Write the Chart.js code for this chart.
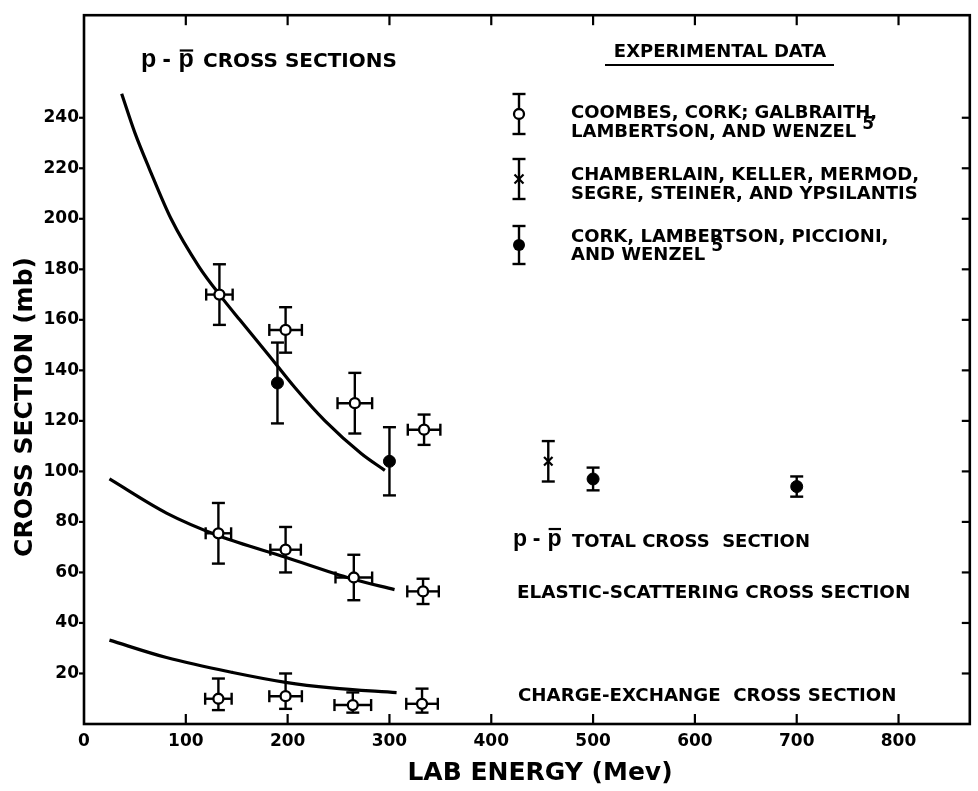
<!DOCTYPE html>
<html>
<head>
<meta charset="utf-8">
<script src="https://cdn.jsdelivr.net/npm/chart.js@4.4.1/dist/chart.umd.min.js"></script>
<style>
  html, body { margin: 0; padding: 0; background: #fff; }
  canvas { display: block; }
</style>
</head>
<body>
<canvas id="c" width="978" height="791"></canvas>
<script>
// Axis ticks (lab energy in MeV, cross section in mb)
const xTicks = [0, 100, 200, 300, 400, 500, 600, 700, 800];
const yTicks = [0, 20, 40, 60, 80, 100, 120, 140, 160, 180, 200, 220, 240];

// Coombes, Cork, Galbraith, Lambertson and Wenzel (open circles)
const totalE      = [133, 198, 266, 334];
const totalSigma  = [170, 156, 127, 116.5];
const totalErr    = [12, 9, 12, 6];
const totalEErr   = [13, 16, 17, 16];

const elasticE     = [132, 198, 265, 333];
const elasticSigma = [75.5, 69, 58, 52.5];
const elasticErr   = [12, 9, 9, 5];
const elasticEErr  = [12.5, 15, 18, 15.5];

const chexE        = [132, 198, 264, 332];
const chexSigma    = [10, 11, 7.5, 8];
const chexErrUp    = [8, 9, 5, 6];
const chexErrDown  = [4.5, 5, 3, 3.5];
const chexEErr     = [13, 16, 18, 15.5];

// Cork, Lambertson, Piccioni and Wenzel (filled circles)
const corkE     = [190, 300, 500, 700];
const corkSigma = [135, 104, 97, 94];
const corkErr   = [16, 13.5, 4.5, 4];

// Chamberlain, Keller, Mermod, Segre, Steiner and Ypsilantis (cross)
const chamE     = [456];
const chamSigma = [104];
const chamErr   = [8];

// Theoretical curves
const totalCurveE     = [37, 50, 64, 85.5, 113, 135, 153, 181.5, 207.5, 236.7, 272.5, 295.5];
const totalCurve      = [249.5, 234, 220, 200, 181, 169, 160, 146, 133, 120, 107, 100.4];
const elasticCurveE   = [25, 81, 133, 198, 263, 305];
const elasticCurve    = [97, 83.5, 74.4, 66, 57.5, 53.2];
const chexCurveE      = [25, 81, 146, 198, 243, 307];
const chexCurve       = [33.2, 26.3, 20.4, 16.5, 14.3, 12.4];

const pts = (xs, ys) => xs.map((x, i) => ({ x, y: ys[i] }));
const FONT = '"DejaVu Sans", sans-serif';

const curve = (xs, ys) => ({
  type: 'line', data: pts(xs, ys), showLine: true, borderColor: '#000',
  borderWidth: 3.2, pointRadius: 0, cubicInterpolationMode: 'monotone',
  fill: false, order: 2
});
const marks = (xs, ys, style) => Object.assign({
  type: 'scatter', data: pts(xs, ys), order: 1, pointHoverRadius: 0
}, style);

const openCircle = { pointStyle: 'circle', pointRadius: 5, pointBackgroundColor: '#fff',
                     pointBorderColor: '#000', pointBorderWidth: 2.3 };
const fullCircle = { pointStyle: 'circle', pointRadius: 6, pointBackgroundColor: '#000',
                     pointBorderColor: '#000', pointBorderWidth: 1 };
const crossMark  = { pointStyle: 'crossRot', pointRadius: 6, pointBorderColor: '#000',
                     pointBorderWidth: 2.2 };

// Error bars: vertical (sigma) and horizontal (energy spread)
const errorSets = [
  { e: totalE,   v: totalSigma,   up: totalErr,   down: totalErr,   de: totalEErr },
  { e: elasticE, v: elasticSigma, up: elasticErr, down: elasticErr, de: elasticEErr },
  { e: chexE,    v: chexSigma,    up: chexErrUp,  down: chexErrDown, de: chexEErr },
  { e: corkE,    v: corkSigma,    up: corkErr,    down: corkErr },
  { e: chamE,    v: chamSigma,    up: chamErr,    down: chamErr }
];

function seg(ctx, x1, y1, x2, y2) {
  ctx.beginPath(); ctx.moveTo(x1, y1); ctx.lineTo(x2, y2); ctx.stroke();
}

const errorBars = {
  id: 'errorBars',
  beforeDatasetsDraw(chart) {
    const { ctx, scales: { x, y } } = chart;
    ctx.save();
    ctx.strokeStyle = '#000';
    ctx.lineWidth = 2.4;
    errorSets.forEach(s => {
      s.e.forEach((e, i) => {
        const px = x.getPixelForValue(e);
        const py = y.getPixelForValue(s.v[i]);
        const top = y.getPixelForValue(s.v[i] + s.up[i]);
        const bot = y.getPixelForValue(s.v[i] - s.down[i]);
        seg(ctx, px, top, px, bot);
        seg(ctx, px - 6.5, top, px + 6.5, top);
        seg(ctx, px - 6.5, bot, px + 6.5, bot);
        if (s.de) {
          const l = x.getPixelForValue(e - s.de[i]);
          const r = x.getPixelForValue(e + s.de[i]);
          seg(ctx, l, py, r, py);
          seg(ctx, l, py - 6, l, py + 6);
          seg(ctx, r, py - 6, r, py + 6);
        }
      });
    });
    ctx.restore();
  }
};

// text helper: y is the vertical centre of the capitals
function capText(ctx, text, x, yc, size, weight, align) {
  ctx.font = `${weight || 'bold'} ${size}px ${FONT}`;
  ctx.textAlign = align || 'left';
  ctx.textBaseline = 'alphabetic';
  ctx.fillText(text, x, yc + 0.729 * size / 2);
  return ctx.measureText(text).width;
}

// "p - p̄" : proton / antiproton, drawn with a bar over the second p
function pPbar(ctx, x, yc, size, barGap) {
  ctx.font = `bold ${size}px "Liberation Sans", sans-serif`;
  ctx.textAlign = 'left';
  ctx.textBaseline = 'alphabetic';
  const xh = 0.52 * size;
  const base = yc + xh / 2;
  ctx.fillText('p', x, base);
  ctx.fillText('-', x + 0.86 * size, base);
  const p2 = x + 1.5 * size;
  ctx.fillText('p', p2, base);
  const w = ctx.measureText('p').width;
  ctx.lineWidth = 2.2;
  seg(ctx, p2 + 0.08 * w, base - xh - barGap, p2 + w - 0.04 * w, base - xh - barGap);
  return p2 + w;
}

function legendMark(ctx, x, yTop, yBot, kind) {
  const yc = (yTop + yBot) / 2;
  ctx.lineWidth = 2.4;
  seg(ctx, x, yTop, x, yBot);
  seg(ctx, x - 6.5, yTop, x + 6.5, yTop);
  seg(ctx, x - 6.5, yBot, x + 6.5, yBot);
  if (kind === 'open') {
    ctx.beginPath(); ctx.arc(x, yc, 5, 0, 2 * Math.PI);
    ctx.fillStyle = '#fff'; ctx.fill(); ctx.lineWidth = 2.3; ctx.stroke();
    ctx.fillStyle = '#000';
  } else if (kind === 'full') {
    ctx.beginPath(); ctx.arc(x, yc, 6, 0, 2 * Math.PI); ctx.fill();
  } else {
    ctx.lineWidth = 2.2;
    seg(ctx, x - 4.5, yc - 4.5, x + 4.5, yc + 4.5);
    seg(ctx, x - 4.5, yc + 4.5, x + 4.5, yc - 4.5);
  }
}

const decorations = {
  id: 'decorations',
  afterDraw(chart) {
    const { ctx, chartArea: a, scales: { x, y } } = chart;
    ctx.save();
    ctx.strokeStyle = '#000';
    ctx.fillStyle = '#000';

    // frame
    ctx.lineWidth = 2.6;
    ctx.strokeRect(a.left, a.top, a.right - a.left, a.bottom - a.top);

    // tick marks: inward on bottom/top/right, outward on the left
    ctx.lineWidth = 2.2;
    xTicks.forEach(v => {
      if (v === 0) return;
      const px = x.getPixelForValue(v);
      seg(ctx, px, a.bottom, px, a.bottom - 10);
      seg(ctx, px, a.top, px, a.top + 10);
    });
    yTicks.forEach(v => {
      if (v === 0) return;
      const py = y.getPixelForValue(v);
      seg(ctx, a.left - 5, py, a.left, py);
      seg(ctx, a.right - 8, py, a.right, py);
    });

    // axis titles
    capText(ctx, 'LAB ENERGY (Mev)', 540, 771, 25, 'bold', 'center');
    ctx.save();
    ctx.translate(23, 407);
    ctx.rotate(-Math.PI / 2);
    capText(ctx, 'CROSS SECTION (mb)', 0, 0, 25, 'bold', 'center');
    ctx.restore();

    // heading
    pPbar(ctx, 141, 60, 25, 3);
    capText(ctx, 'CROSS SECTIONS', 203, 60, 20, 'bold');

    // key
    capText(ctx, 'EXPERIMENTAL DATA', 720, 50, 18, 'bold', 'center');
    ctx.lineWidth = 2;
    seg(ctx, 605, 65, 834, 65);

    legendMark(ctx, 519, 94, 134, 'open');
    capText(ctx, 'COOMBES, CORK; GALBRAITH,', 571, 111, 18, 'bold');
    let w = capText(ctx, 'LAMBERTSON, AND WENZEL', 571, 130, 18, 'bold');
    capText(ctx, '5', 571 + w + 6, 123, 17, 'bold');

    legendMark(ctx, 519, 159, 199, 'cross');
    capText(ctx, 'CHAMBERLAIN, KELLER, MERMOD,', 571, 173, 18, 'bold');
    capText(ctx, 'SEGRE, STEINER, AND YPSILANTIS', 571, 192, 18, 'bold');

    legendMark(ctx, 519, 226, 264, 'full');
    capText(ctx, 'CORK, LAMBERTSON, PICCIONI,', 571, 235, 18, 'bold');
    w = capText(ctx, 'AND WENZEL', 571, 253, 18, 'bold');
    capText(ctx, '5', 571 + w + 6, 245, 17, 'bold');

    // curve labels
    pPbar(ctx, 513, 540, 23, 5);
    capText(ctx, 'TOTAL CROSS  SECTION', 572, 540, 18, 'bold');
    capText(ctx, 'ELASTIC-SCATTERING CROSS SECTION', 517, 591, 18.4, 'bold');
    capText(ctx, 'CHARGE-EXCHANGE  CROSS SECTION', 518, 694, 18.2, 'bold');

    ctx.restore();
  }
};

const tickFont = { family: FONT, size: 17, weight: 'bold' };

new Chart(document.getElementById('c'), {
  type: 'scatter',
  data: {
    datasets: [
      curve(totalCurveE, totalCurve),
      curve(elasticCurveE, elasticCurve),
      curve(chexCurveE, chexCurve),
      marks(totalE, totalSigma, openCircle),
      marks(elasticE, elasticSigma, openCircle),
      marks(chexE, chexSigma, openCircle),
      marks(corkE, corkSigma, fullCircle),
      marks(chamE, chamSigma, crossMark)
    ]
  },
  options: {
    responsive: false,
    animation: false,
    devicePixelRatio: 1,
    layout: { padding: { top: 5, right: 2, left: 0, bottom: 0 } },
    plugins: { legend: { display: false }, tooltip: { enabled: false } },
    scales: {
      x: {
        type: 'linear', min: 0, max: 870,
        grid: { display: false, drawTicks: false },
        border: { display: false },
        afterBuildTicks: s => { s.ticks = xTicks.map(v => ({ value: v })); },
        afterFit: s => { s.height = 67; },
        ticks: { font: tickFont, color: '#000', padding: 7, maxRotation: 0, autoSkip: false }
      },
      y: {
        type: 'linear', min: 0, max: 280.6,
        grid: { display: false, drawTicks: false },
        border: { display: false },
        afterBuildTicks: s => { s.ticks = yTicks.map(v => ({ value: v })); },
        afterFit: s => { s.width = 84; },
        ticks: {
          font: tickFont, color: '#000', padding: 5, autoSkip: false,
          callback: v => (v === 0 ? '' : String(v))
        }
      }
    }
  },
  plugins: [errorBars, decorations]
});
</script>
</body>
</html>
